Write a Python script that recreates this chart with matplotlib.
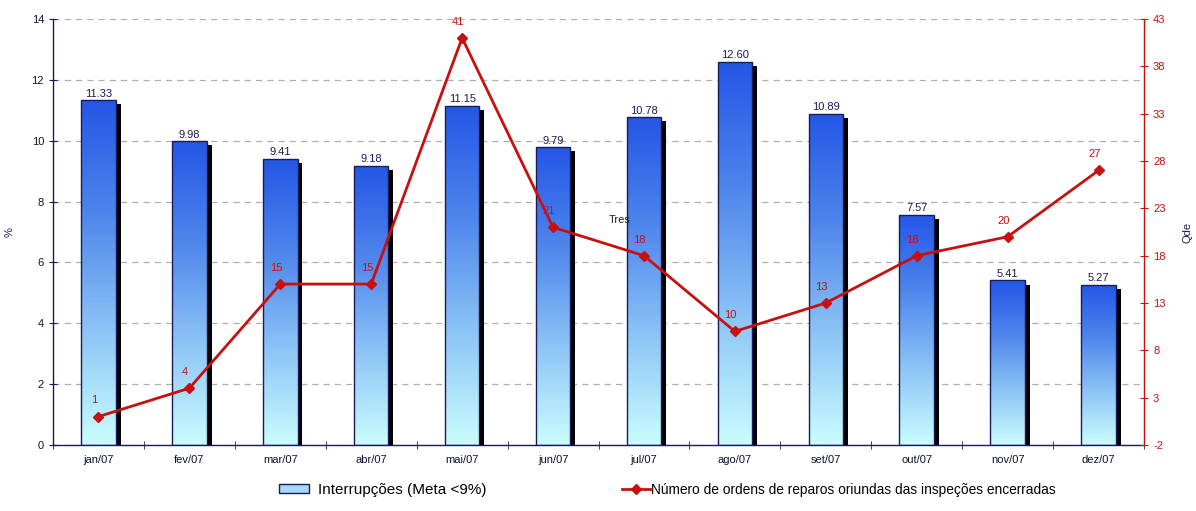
import numpy as np
import matplotlib
matplotlib.use("Agg")
import matplotlib.pyplot as plt
from matplotlib.patches import Patch
from matplotlib.lines import Line2D
from matplotlib.colors import LinearSegmentedColormap
from matplotlib import patheffects as pe

plt.rcParams['font.family'] = ['Liberation Sans', 'DejaVu Sans']
plt.rcParams['axes.unicode_minus'] = False

months = ["jan/07", "fev/07", "mar/07", "abr/07", "mai/07", "jun/07",
          "jul/07", "ago/07", "set/07", "out/07", "nov/07", "dez/07"]
interrupcoes = [11.33, 9.98, 9.41, 9.18, 11.15, 9.79, 10.78, 12.60, 10.89, 7.57, 5.41, 5.27]
ordens = [1, 4, 15, 15, 41, 21, 18, 10, 13, 18, 20, 27]

navy = "#1b1b55"
red = "#c81010"

fig = plt.figure(figsize=(11.96, 5.11), dpi=100)
ax = fig.add_axes([53/1196, 1-445/511, (1144-53)/1196, (445-19)/511])
ax2 = ax.twinx()

x = np.arange(len(months))
ax.set_xlim(-0.5, len(months) - 0.5)
ax.set_ylim(0, 14)
ax2.set_ylim(-2, 43)

ax.set_axisbelow(True)
ax.yaxis.grid(True, linestyle=(0, (5, 4)), color="#b0b0b0", linewidth=0.9)

# bars with a black drop shadow and a vertical blue gradient fill
bw = 0.38
bars = ax.bar(x, interrupcoes, width=bw, facecolor="white", edgecolor="none", zorder=2,
              path_effects=[pe.SimplePatchShadow(offset=(3.5, -3), shadow_rgbFace="black", alpha=1.0),
                            pe.Normal()])
cmap = LinearSegmentedColormap.from_list("blu", ["#cafdff", "#8cc4f6", "#4f86ec", "#2456e6"])
grad = np.linspace(0, 1, 256).reshape(-1, 1)
for b in bars:
    x0, y0 = b.get_x(), b.get_y()
    w, h = b.get_width(), b.get_height()
    im = ax.imshow(grad, cmap=cmap, origin="lower", aspect="auto",
                   extent=[x0, x0 + w, y0, y0 + h], zorder=2.1)
    im.set_clip_path(b)
ax.bar(x, interrupcoes, width=bw, facecolor="none", edgecolor=navy, linewidth=1.0, zorder=2.2)

for xi, v in zip(x, interrupcoes):
    ax.annotate(f"{v:.2f}", (xi, v), xytext=(0, 1), textcoords="offset points",
                ha="center", va="bottom", fontsize=8, color=navy, zorder=5)

ax.set_xticks(x)
ax.set_xticklabels(months, fontsize=8, color="#111133")
ax.set_xticks(np.arange(-0.5, len(months) + 0.5, 1), minor=True)
ax.tick_params(axis="x", which="major", length=0, pad=7)
ax.tick_params(axis="x", which="minor", length=6, direction="inout", color=navy)
ax.set_yticks(np.arange(0, 15, 2))
ax.tick_params(axis="y", labelsize=8, labelcolor="#111133", direction="inout", length=6, color=navy)
ax.set_ylabel("%", fontsize=8, color=navy, labelpad=12)

for side in ("top", "right"):
    ax.spines[side].set_visible(False)
for side in ("left", "bottom"):
    ax.spines[side].set_color(navy)
    ax.spines[side].set_linewidth(1.0)

# line series on the secondary axis
ax2.plot(x, ordens, color=red, linewidth=2, marker="D", markersize=5, zorder=4)
for xi, v in zip(x, ordens):
    ax2.annotate(str(v), (xi, v), xytext=(-3, 8), textcoords="offset points",
                 ha="center", va="bottom", fontsize=8, color=red)
ax2.text(5.73, 21.8, "Tres", fontsize=8, color="#222222", ha="center", va="center")

ax2.set_yticks(np.arange(-2, 44, 5))
ax2.tick_params(axis="y", labelsize=8, labelcolor=red, direction="inout", length=6, color=red)
ax2.set_ylabel("Qde", fontsize=8, color=navy, labelpad=12)
for side in ("top", "left", "bottom"):
    ax2.spines[side].set_visible(False)
ax2.spines["right"].set_color(red)
ax2.spines["right"].set_linewidth(1.0)

h1 = Patch(facecolor="#a8d8f8", edgecolor=navy, linewidth=1.0)
h2 = Line2D([], [], color=red, linewidth=2, marker="D", markersize=5)
fig.legend(handles=[h1], labels=["Interrupções (Meta <9%)"], loc="center left",
           bbox_to_anchor=(265/1196, 1-490/511), frameon=False, fontsize=11,
           handlelength=2.0, handleheight=0.55, handletextpad=0.6)
fig.legend(handles=[h2], labels=["Número de ordens de reparos oriundas das inspeções encerradas"],
           loc="center left", bbox_to_anchor=(610/1196, 1-490/511), frameon=False, fontsize=9.9,
           handlelength=2.0, handletextpad=0.1)

fig.savefig("out.png", dpi=100)
